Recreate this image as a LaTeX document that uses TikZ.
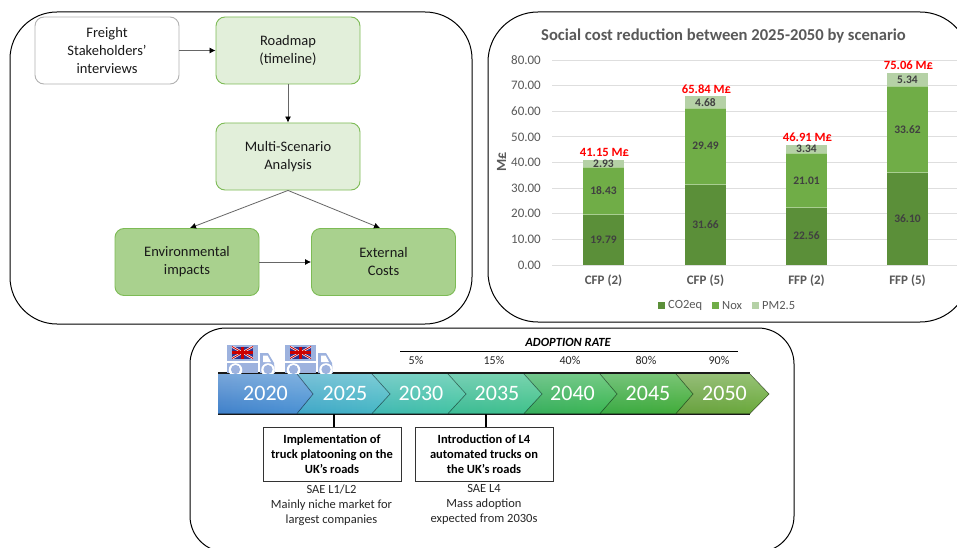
\documentclass[tikz,border=0pt]{standalone}
\usepackage{fontspec}
\setmainfont{Carlito}
\usetikzlibrary{arrows.meta,fadings}
\definecolor{lightg}{HTML}{E2EFDA}
\definecolor{midg}{HTML}{A9D18E}
\definecolor{edgeg}{HTML}{7DBB55}
\definecolor{co}{HTML}{5B8F39}
\definecolor{nox}{HTML}{70AD47}
\definecolor{pm}{HTML}{B5D1A6}
\definecolor{charttxt}{HTML}{595959}
\definecolor{datatxt}{HTML}{404040}
\definecolor{truckc}{HTML}{9DB2DE}
\newcommand{\fs}[2]{\fontsize{#1}{#2}\selectfont}
\tikzset{
  frame/.style={draw=black,line width=1pt,fill=white},
  flowbox/.style={rounded corners=9pt,line width=0.9pt,minimum width=144pt,minimum height=67pt,align=center,font=\fs{14.5}{18},text=black!90,inner sep=0pt},
  plain/.style={flowbox,draw=black!30,fill=white},
  light/.style={flowbox,draw=edgeg,fill=lightg},
  mid/.style={flowbox,draw=edgeg,fill=midg},
  link/.style={draw=black!60,line width=0.8pt,-{Latex[length=6pt,width=6pt,black]}},
  gridl/.style={draw=black!13,line width=0.9pt},
  ytick/.style={font=\fs{13}{15},text=charttxt,anchor=east,inner sep=0pt},
  xtick/.style={font=\fs{13}{15}\bfseries,text=charttxt,inner sep=0pt},
  dlab/.style={font=\fs{11.5}{14}\bfseries,text=datatxt,inner sep=0pt},
  total/.style={font=\fs{12.6}{15}\bfseries,text=red,inner sep=0pt},
  leg/.style={font=\fs{12.5}{15},text=charttxt,anchor=west,inner sep=0pt},
  year/.style={font=\fs{22}{24},text=white,inner sep=0pt},
  pct/.style={font=\fs{12}{14},text=black!85,inner sep=0pt},
  miles/.style={draw=black!80,line width=0.9pt,fill=white,minimum width=138pt,minimum height=54pt,align=center,font=\fs{12.5}{14.7}\bfseries,inner sep=0pt},
  note/.style={font=\fs{12.5}{15},align=center,text=black!85,inner sep=0pt},
  tick line/.style={draw=black,line width=1.3pt},
  truckpart/.style={fill=truckc,draw=none}
}
\newcommand{\chev}[5]{% left, shoulder, tip, left colour, right colour
  \fill[left color=#4,right color=#5]
    (#1,374) -- (#2,374) -- (#3,394) -- (#2,413.5) -- (#1,413.5) -- cycle;
  \fill[white,opacity=.3,path fading=south]
    (#1,374) -- (#2,374) -- (#3,394) -- (#2,413.5) -- (#1,413.5) -- cycle;
  \draw[black,opacity=.3,line width=0.8pt] (#2,374) -- (#3,394) -- (#2,413.5);
}
\newcommand{\truck}[1]{%
  \begin{scope}[shift={(#1,344)}]
    \clip (-1,0) rectangle (50,29);
    \fill[truckpart] (0,1) rectangle (31,17);
    \fill[truckpart] (0,19) rectangle (31,29);
    \fill[truckpart] (33,9) -- (41,9) -- (47,19) -- (48,29) -- (33,29) -- cycle;
    \fill[white] (36,11.5) -- (40.5,11.5) -- (44,18) -- (36,18) -- cycle;
    \fill[white] (8.5,26) circle (6.8);
    \fill[white] (41,26) circle (6.8);
    \fill[truckpart] (8.5,25.5) circle (4.6);
    \fill[truckpart] (41,25.5) circle (4.6);
    \begin{scope}
      \clip (5,2.5) rectangle (26,14.5);
      \fill[blue!45!black!80] (5,2.5) rectangle (26,14.5);
      \draw[white,line width=2.2pt] (5,2.5) -- (26,14.5) (5,14.5) -- (26,2.5);
      \draw[red!80!black,line width=0.9pt] (5,2.5) -- (26,14.5) (5,14.5) -- (26,2.5);
      \draw[white,line width=3.8pt] (15.5,2.5) -- (15.5,14.5) (5,8.5) -- (26,8.5);
      \draw[red!80!black,line width=2.2pt] (15.5,2.5) -- (15.5,14.5) (5,8.5) -- (26,8.5);
    \end{scope}
  \end{scope}}
\begin{document}
\begin{tikzpicture}[x=1pt,y=-1pt]
\useasboundingbox (0,0) rectangle (957,548);
\clip (0,0) rectangle (957,548);
\fill[white] (0,0) rectangle (957,548);

% ---- frames
\draw[frame,rounded corners=47pt] (10,12) rectangle (472,324);
\draw[frame,rounded corners=50pt] (488,12) rectangle (970,322);
\draw[frame,rounded corners=36pt] (190,328) rectangle (794,552);

% ---- flow
\node[plain] (freight) at (107,50.5) {Freight\\Stakeholders’\\interviews};
\node[light] (roadmap) at (288,50.5) {Roadmap\\(timeline)};
\node[light] (multi) at (288,156.5) {Multi-Scenario\\Analysis};
\node[mid] (env) at (187,262) {Environmental\\impacts};
\node[mid] (ext) at (383.5,262) {External\\Costs};
\draw[link] (freight) -- (roadmap);
\draw[link] (roadmap) -- (multi);
\coordinate (envin) at (190,228);
\coordinate (extin) at (380,228);
\draw[link] (multi.south) -- (envin);
\draw[link] (multi.south) -- (extin);
\draw[link] (env) -- (ext);

% ---- chart
\node[font=\fs{16.6}{18}\bfseries,text=charttxt,inner sep=0pt] at (723.5,35.5) {Social cost reduction between 2025-2050 by scenario};
\foreach \v/\lab in {0/0.00,10/10.00,20/20.00,30/30.00,40/40.00,50/50.00,60/60.00,70/70.00,80/80.00}{
  \draw[gridl] (552,{265-\v*2.5625}) -- (957,{265-\v*2.5625});
  \node[ytick] at (541,{265-\v*2.5625}) {\lab};
}
\node[font=\fs{14}{16}\bfseries,text=charttxt,rotate=90,inner sep=0pt] at (501.5,162) {M£};
\foreach \xa/\a/\b/\c/\sa/\sb/\sc/\tot/\nm in {
  583/19.79/18.43/2.93/19.79/18.43/2.93/41.15/CFP (2),
  685/31.66/29.49/4.68/31.66/29.49/4.68/65.84/CFP (5),
  786/22.56/21.01/3.34/22.56/21.01/3.34/46.91/FFP (2),
  887/36.10/33.62/5.34/36.10/33.62/5.34/75.06/FFP (5)}{
  \pgfmathsetmacro{\ya}{265-\a*2.5625}
  \pgfmathsetmacro{\yb}{\ya-\b*2.5625}
  \pgfmathsetmacro{\yc}{\yb-\c*2.5625}
  \fill[co] (\xa,265) rectangle (\xa+41,\ya);
  \fill[nox] (\xa,\ya) rectangle (\xa+41,\yb);
  \fill[pm] (\xa,\yb) rectangle (\xa+41,\yc);
  \draw[nox!60!white,line width=0.4pt] (\xa,\ya) -- (\xa+41,\ya) (\xa,\yb) -- (\xa+41,\yb);
  \node[dlab] at (\xa+20.5,{(265+\ya)/2}) {\sa};
  \node[dlab] at (\xa+20.5,{(\ya+\yb)/2}) {\sb};
  \node[dlab] at (\xa+20.5,{(\yb+\yc)/2}) {\sc};
  \node[total] at (\xa+21.5,\yc-7.5) {\tot{} M£};
  \node[xtick] at (\xa+20.5,281) {\nm};
}
\fill[co] (658,302) rectangle (665,309);
\node[leg] at (668,305.5) {CO2eq};
\fill[nox] (712,302) rectangle (719,309);
\node[leg] at (722,305.5) {Nox};
\fill[pm] (752,302) rectangle (759,309);
\node[leg] at (762,305.5) {PM2.5};

% ---- timeline
\draw[black!90,line width=1.6pt] (218,373) -- (750,373) (218,414) -- (750,414);
\definecolor{c1a}{HTML}{3F80CA}\definecolor{c1b}{HTML}{4A92D4}
\definecolor{c2a}{HTML}{3FA6C8}\definecolor{c2b}{HTML}{45B8C4}
\definecolor{c3a}{HTML}{3FB8B4}\definecolor{c3b}{HTML}{42C4A0}
\definecolor{c4a}{HTML}{3CBB96}\definecolor{c4b}{HTML}{40C28A}
\definecolor{c5a}{HTML}{36AE5E}\definecolor{c5b}{HTML}{3AB650}
\definecolor{c6a}{HTML}{3AAA44}\definecolor{c6b}{HTML}{42AC38}
\definecolor{c7a}{HTML}{68A03F}\definecolor{c7b}{HTML}{6AAA3A}
\chev{676}{750}{769}{c7a}{c7b}
\chev{600}{676}{693}{c6a}{c6b}
\chev{524}{600}{617}{c5a}{c5b}
\chev{448}{524}{542}{c4a}{c4b}
\chev{372}{448}{466}{c3a}{c3b}
\chev{297}{372}{390}{c2a}{c2b}
\chev{218}{297}{313}{c1a}{c1b}
\foreach \x/\y in {265.5/2020,345/2025,421/2030,497/2035,572.5/2040,648/2045,724.5/2050}{
  \node[year] at (\x,393.5) {\y};
}
\truck{227}
\truck{285}

\node[font=\fs{12.5}{15}\bfseries\itshape,inner sep=0pt] at (568,342) {ADOPTION RATE};
\draw[black,line width=0.9pt] (400,351) -- (738,351);
\foreach \x/\y in {416/5\%,494/15\%,570/40\%,646/80\%,719/90\%}{
  \node[pct] at (\x,360) {\y};
}
\node[miles] (m1) at (332,454) {Implementation of\\truck platooning on the\\UK’s roads};
\node[miles] (m2) at (484,454) {Introduction of L4\\automated trucks on\\the UK’s roads};
\coordinate (t1) at (334,414);
\coordinate (t2) at (486,414);
\draw[tick line] (t1) -- (t1 |- m1.north);
\draw[tick line] (t2) -- (t2 |- m2.north);
\node[note,anchor=north] (n1) at (331.5,484.5) {SAE L1/L2\\Mainly niche market for\\largest companies};
\node[note,anchor=north] (n2) at (484,484.5) {SAE L4\\Mass adoption\\expected from 2030s};
\end{tikzpicture}
\end{document}
